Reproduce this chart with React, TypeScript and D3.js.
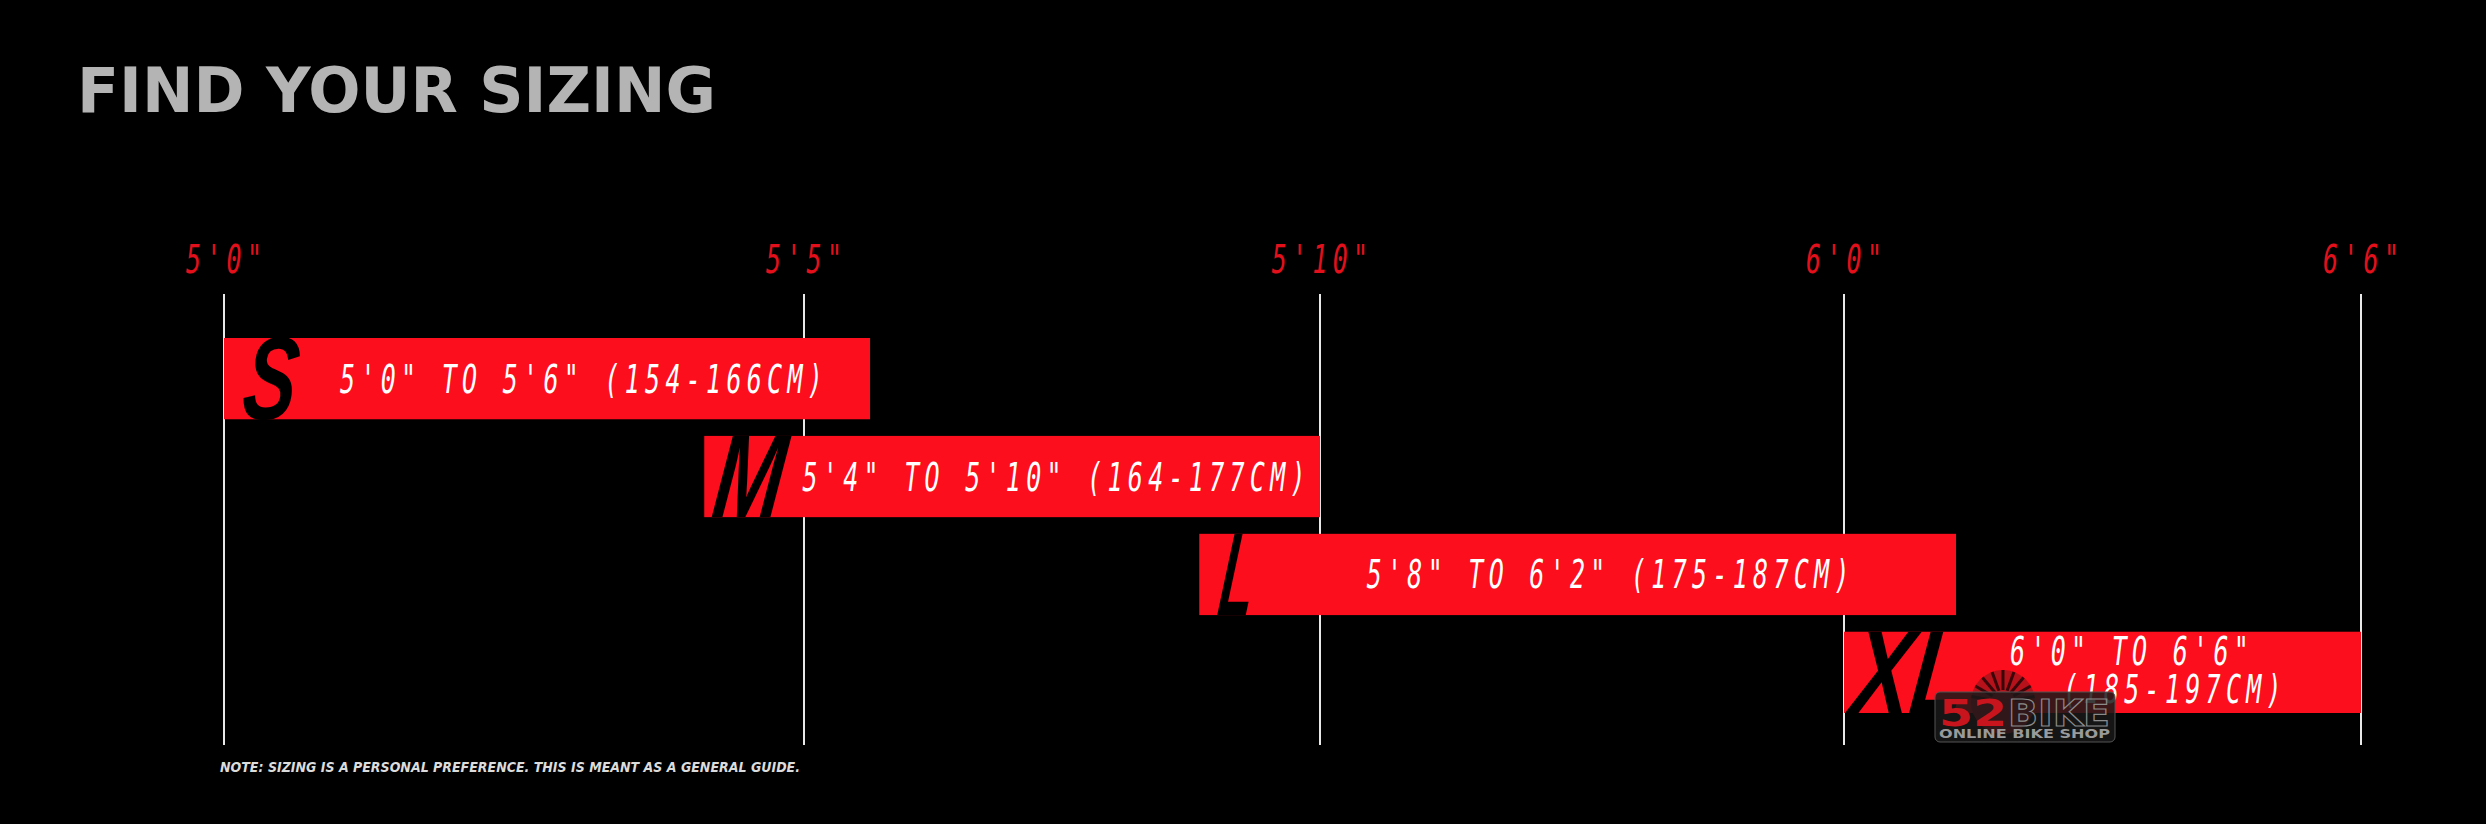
import React, { useEffect, useRef } from "react";
import * as d3 from "d3";

// sizing chart data
const sizes = ["S", "M", "L", "XL"];
const rangeLabels = [
  "5'0\" TO 5'6\" (154-166CM)",
  "5'4\" TO 5'10\" (164-177CM)",
  "5'8\" TO 6'2\" (175-187CM)",
  "6'0\" TO 6'6\" (185-197CM)",
];
// drawn extent of each bar in inches against the axis
const barFrom = [60, 64.14, 68.83, 72];
const barTo = [65.64, 70, 73.3, 78];
const tickValues = [60, 65, 70, 72, 78];
const tickLabels = ["5'0\"", "5'5\"", "5'10\"", "6'0\"", "6'6\""];
const noteText = "NOTE: SIZING IS A PERSONAL PREFERENCE. THIS IS MEANT AS A GENERAL GUIDE.";

const width = 2486;
const height = 824;
const RED = "#fc0e1c";
const MONO = "'DejaVu Sans Mono', monospace";

// layout of the big letters at the left of each bar
const letterOffset = [16, 6, 17, 5];
const letterWidth = [53, 70, 34, 112];
const textStart = [69, 84, 61, 118];

function monoText(g, text, x, y, fill) {
  g.append("g")
    .attr("transform", `translate(${x},${y}) scale(0.64,1)`)
    .append("text")
    .attr("x", 4)
    .attr("text-anchor", "middle")
    .attr("font-family", MONO)
    .attr("font-style", "italic")
    .attr("font-size", 39)
    .attr("letter-spacing", 8.3)
    .attr("fill", fill)
    .text(text);
}

export default function App() {
  const ref = useRef(null);

  useEffect(() => {
    const svg = d3.select(ref.current);
    svg.selectAll("*").remove();

    svg.append("rect").attr("width", width).attr("height", height).attr("fill", "#000");

    // uneven axis, so piecewise linear
    const x = d3.scaleLinear().domain(tickValues).range([224, 804, 1320, 1844, 2361]);
    const y = d3.scaleBand().domain(sizes).range([338, 713]).paddingInner(0.17);

    svg.append("text")
      .attr("x", 77)
      .attr("y", 112)
      .attr("font-family", "'DejaVu Sans', sans-serif")
      .attr("font-weight", 700)
      .attr("font-size", 61.5)
      .attr("textLength", 639)
      .attr("lengthAdjust", "spacing")
      .attr("fill", "#b4b4b4")
      .text("FIND YOUR SIZING");

    const grid = svg.append("g");
    tickValues.forEach((v, i) => {
      grid.append("line")
        .attr("x1", x(v)).attr("x2", x(v))
        .attr("y1", 294).attr("y2", 745)
        .attr("stroke", "#e8e8e8")
        .attr("stroke-width", 2);
      monoText(grid, tickLabels[i], x(v), 273, "#e3101c");
    });

    const bars = svg.append("g");
    sizes.forEach((s, i) => {
      const x0 = x(barFrom[i]);
      const x1 = x(barTo[i]);
      const top = y(s);
      const bw = y.bandwidth();
      bars.append("rect")
        .attr("x", x0).attr("y", top)
        .attr("width", x1 - x0).attr("height", bw)
        .attr("fill", RED);

      bars.append("text")
        .attr("transform", `translate(${x0 + letterOffset[i]},${top + bw}) skewX(-7)`)
        .attr("font-family", "'Liberation Sans Narrow', 'Liberation Sans', sans-serif")
        .attr("font-weight", 700)
        .attr("font-style", "italic")
        .attr("font-size", 118)
        .attr("textLength", letterWidth[i])
        .attr("lengthAdjust", "spacingAndGlyphs")
        .attr("fill", "#000")
        .text(s);

      const cx = (x0 + textStart[i] + x1) / 2;
      const cy = top + bw / 2;
      if (s === "XL") {
        // label wraps onto two lines in the short bar
        const cut = rangeLabels[i].indexOf(" (");
        monoText(bars, rangeLabels[i].slice(0, cut), cx - 32, cy - 7, "#fff");
        monoText(bars, rangeLabels[i].slice(cut + 1), cx + 11, cy + 31, "#fff");
      } else {
        monoText(bars, rangeLabels[i], cx, cy + 14, "#fff");
      }
    });

    // watermark
    const wm = svg.append("g");
    wm.append("circle").attr("cx", 2003).attr("cy", 702).attr("r", 32).attr("fill", "#b5121b");
    d3.range(9).forEach((k) => {
      const a = Math.PI + (k + 0.5) * (Math.PI / 9);
      wm.append("line")
        .attr("x1", 2003 + Math.cos(a) * 12).attr("y1", 702 + Math.sin(a) * 12)
        .attr("x2", 2003 + Math.cos(a) * 32).attr("y2", 702 + Math.sin(a) * 32)
        .attr("stroke", "#3a0609").attr("stroke-width", 3);
    });
    wm.append("rect")
      .attr("x", 1935).attr("y", 692).attr("width", 180).attr("height", 50)
      .attr("rx", 5)
      .attr("fill", "rgba(25,25,25,0.85)")
      .attr("stroke", "#555");
    wm.append("text")
      .attr("x", 1939).attr("y", 726)
      .attr("font-family", "'DejaVu Sans', sans-serif").attr("font-weight", 700)
      .attr("font-size", 38).attr("textLength", 68).attr("lengthAdjust", "spacingAndGlyphs")
      .attr("fill", "#c8141c").text("52");
    wm.append("text")
      .attr("x", 2008).attr("y", 726)
      .attr("font-family", "'DejaVu Sans', sans-serif").attr("font-weight", 700)
      .attr("font-size", 38).attr("textLength", 102).attr("lengthAdjust", "spacingAndGlyphs")
      .attr("fill", "none").attr("stroke", "#8a8a8a").attr("stroke-width", 1.2).text("BIKE");
    wm.append("text")
      .attr("x", 1939).attr("y", 738)
      .attr("font-family", "'DejaVu Sans', sans-serif").attr("font-weight", 700)
      .attr("font-size", 13).attr("textLength", 171).attr("lengthAdjust", "spacingAndGlyphs")
      .attr("fill", "#9a9a9a").text("ONLINE BIKE SHOP");

    svg.append("text")
      .attr("x", 220)
      .attr("y", 772)
      .attr("font-family", "'DejaVu Sans Condensed', 'DejaVu Sans', sans-serif")
      .attr("font-weight", 700)
      .attr("font-style", "italic")
      .attr("font-size", 13.7)
      .attr("textLength", 580)
      .attr("lengthAdjust", "spacingAndGlyphs")
      .attr("fill", "#dcdcdc")
      .text(noteText);
  }, []);

  return (
    <svg
      ref={ref}
      width={width}
      height={height}
      style={{ position: "absolute", left: 0, top: 0, display: "block" }}
    />
  );
}
